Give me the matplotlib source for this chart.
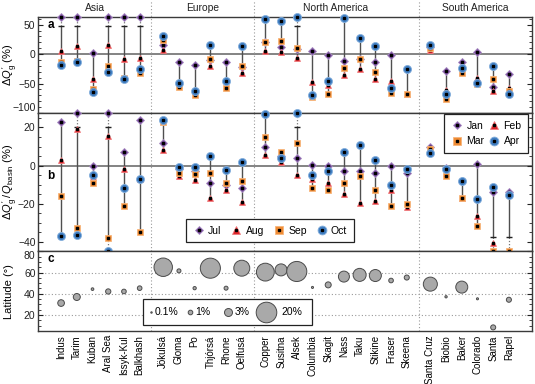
import matplotlib
matplotlib.use('Agg')
import matplotlib.pyplot as plt
import matplotlib.transforms as mtransforms
from matplotlib.lines import Line2D
from matplotlib.patches import Rectangle
from matplotlib.ticker import MultipleLocator
import numpy as np

plt.rcParams['font.family'] = ['Liberation Sans', 'DejaVu Sans']
plt.rcParams['mathtext.fontset'] = 'custom'
plt.rcParams['mathtext.rm'] = 'Liberation Sans'
plt.rcParams['mathtext.it'] = 'Liberation Sans:italic'
plt.rcParams['font.size'] = 7

rivers = ['Indus', 'Tarim', 'Kuban', 'Aral Sea', 'Issyk-Kul', 'Balkhash',
          'Jökulsá', 'Gloma', 'Po', 'Thjórsá', 'Rhone', 'Oelfusá',
          'Copper', 'Susitna', 'Alsek', 'Columbia', 'Skagit', 'Nass', 'Taku',
          'Stikine', 'Fraser', 'Skeena',
          'Santa Cruz', 'Biobio', 'Baker', 'Colorado', 'Santa', 'Rapel']
regions = ['Asia', 'Europe', 'North America', 'South America']
region_sizes = [6, 6, 10, 6]

# panel a: change in glacier runoff, Jan-Apr (%). values past the axis get drawn at the edge
jan = [80, 80, 2, 80, 80, 80, 15, -14, -18, -10, -13, -22,
       20, 12, 9, 5, -1, -12, -8, -13, -1, -25, 12, -28, -14, 3, -56, -34]
feb = [5, 14, -43, 15, -8, -7, 7, -53, -68, -20, -55, -32,
       5, 4, -7, -48, -52, -36, -25, -42, -46, -67, 7, -61, -31, -41, -62, -58]
mar = [-13, -11, -60, -21, -41, -32, 24, -55, -70, -8, -57, -21,
       21, 23, 11, -73, -68, -23, -9, -30, -66, -68, 11, -76, -32, -50, -42, -62]
apr = [-18, -14, -64, -30, -42, -26, 30, -49, -62, 16, -46, 13,
       60, 57, 80, -69, -45, 61, 28, 14, -57, -25, 16, -68, -24, -49, -21, -67]

# panel b: change relative to basin runoff, Jul-Oct (%)
jul = [23, 40, 0, 40, 7, 24, 12, -2, -3, -9, -10, -12,
       10, 5, 4, 0.5, 0, -3, -3, -4, 0, -4, 9.5, -1.5, -8, 1, -14, -14]
aug = [3, 19, -6, 15.5, -2, -7, 8, -5.5, -7.8, -17, -13, -19,
       5.5, 2, -5, -7, -9, -15, -19.5, -18.5, -12.7, -22, 7, -4, -17, -26.4, -40.5, -15]
sep = [-16, -33, -9, -38, -21, -35, 23, -4, -4.4, -4, -9, -8,
       15, 7, 12, -12, -13, -9, -5.6, -12.7, -21, -20, 8.5, -5.6, -17, -31.7, -60, -60]
oct_ = [-37, -36.5, -5, -60, -12, -7, 24, -0.8, -0.8, 5, -2.5, 2,
        27, 4, 40, -5, -3, 7, 10.7, 3, -10.4, -2, 6.5, -1.8, -8, -17.6, -11, -15.5]

# panel c: latitude (deg) and glacier cover (%)
latitude = [31.3, 37, 44.4, 42.2, 42.2, 45.3, 65, 61.6, 45.3, 64.1, 45.3, 64.1,
            60.4, 62.5, 61, 46, 48.4, 56.2, 57.8, 57.2, 52.5, 55.3,
            49.1, 37.2, 46.3, 35.3, 8.4, 34.4]
glacier_pct = [2.1, 2.3, 0.33, 1.3, 1.0, 1.0, 16, 0.75, 0.5, 19, 0.75, 12,
               15, 6.8, 19, 0.2, 1.7, 5.7, 8, 6.8, 1.0, 1.2,
               9.3, 0.25, 6.8, 0.2, 1.2, 1.2]
legend_pct = [0.1, 1, 3, 20]

colors = ['#7b4d9f', '#e1262b', '#f08c35', '#3f7dc1']
edges = ['#a88cc2', '#ee7b7e', '#f6b57c', '#86b0dc']
markers = ['D', '^', 's', 'o']
msizes = [3.7, 5.0, 5.0, 5.8]
line_grey = '#4f4f4f'
bubble_scale = 11

# x positions, with a gap between regions
x = []
pos = 0.0
for n in region_sizes:
    x += [pos + i for i in range(n)]
    pos += n + 0.5
x = np.array(x)
ends = np.cumsum(region_sizes)
dividers = [(x[e - 1] + x[e]) / 2 for e in ends[:-1]]
xlim = (x[0] - 1.45, x[-1] + 1.45)

fig = plt.figure(figsize=(5.35, 3.84), dpi=100)
ax_a = fig.add_axes([0.0716, 0.7057, 0.9222, 0.2500])
ax_b = fig.add_axes([0.0716, 0.3456, 0.9222, 0.3601])
ax_c = fig.add_axes([0.0716, 0.1380, 0.9222, 0.2076])


def draw_months(ax, series, lo, hi, cap_lo, cap_hi):
    vals = np.array(series, dtype=float)
    for j, xi in enumerate(x):
        v = vals[:, j]
        inside = v[(v >= lo) & (v <= hi)]
        over, under = (v > hi).any(), (v < lo).any()
        top = cap_hi if over else inside.max()
        bot = cap_lo if under else inside.min()
        ax.plot([xi, xi], [bot, top], color=line_grey, lw=1, zorder=2)
        if over:
            ax.plot([xi, xi], [cap_hi, hi], color='#777777', lw=0.9,
                    ls=(0, (1, 1.5)), zorder=2, clip_on=False)
            ax.plot(xi, cap_hi, marker='_', ms=5, mew=1, color='#222222', zorder=2)
        if under:
            ax.plot([xi, xi], [lo, cap_lo], color='#777777', lw=0.9,
                    ls=(0, (1, 1.5)), zorder=2, clip_on=False)
            ax.plot(xi, cap_lo, marker='_', ms=5, mew=1, color='#222222', zorder=2)
    for k in range(4):
        y = np.clip(vals[k], lo, hi)
        ax.plot(x, y, ls='none', marker=markers[k], ms=msizes[k], mfc=colors[k],
                mec=edges[k], mew=0.6, zorder=3 + 2 * k, clip_on=False)
        ax.plot(x, y, ls='none', marker='s', ms=1.7, color='k',
                zorder=4 + 2 * k, clip_on=False)


draw_months(ax_a, [jan, feb, mar, apr], -100, 63, -100, 47)
draw_months(ax_b, [jul, aug, sep, oct_], -45, 27.6, -37.5, 20.5)

for ax in (ax_a, ax_b):
    ax.axhline(0, color='#7a7a7a', lw=1.3, zorder=1)

ax_c.scatter(x, latitude, s=bubble_scale * np.array(glacier_pct), color='#a9a9a9',
             edgecolor='#4a4a4a', lw=0.7, zorder=3)
for v in (20, 40, 60):
    ax_c.axhline(v, color='#9a9a9a', lw=0.8, ls=(0, (1, 2)), zorder=1)

ax_a.set_ylim(-100, 63)
ax_b.set_ylim(-45, 27.6)
ax_c.set_ylim(5, 80)
ax_a.set_yticks([-100, -50, 0, 50])
ax_b.set_yticks([-40, -20, 0, 20])
ax_c.set_yticks([20, 40, 60, 80])
ax_a.yaxis.set_minor_locator(MultipleLocator(10))
ax_b.yaxis.set_minor_locator(MultipleLocator(5))
ax_c.yaxis.set_minor_locator(MultipleLocator(5))

for ax in (ax_a, ax_b, ax_c):
    ax.set_xlim(*xlim)
    ax.tick_params(axis='y', which='both', direction='in', right=True,
                   labelsize=7.5, pad=2, colors='#222222')
    ax.tick_params(axis='y', which='major', length=3.5, width=0.8)
    ax.tick_params(axis='y', which='minor', length=2, width=0.6)
    ax.tick_params(axis='x', length=0)
    for s in ax.spines.values():
        s.set_color('#3a3a3a')
        s.set_linewidth(1.0)
    for d in dividers:
        ax.axvline(d, color='#9a9a9a', lw=0.8, ls=(0, (1, 2)), zorder=1,
                   ymax=1.18 if ax is ax_a else 1, clip_on=(ax is not ax_a))

ax_a.set_xticks([])
ax_b.set_xticks([])
ax_c.set_xticks(x)
ax_c.set_xticklabels(rivers, rotation=90, fontsize=7)
ax_c.tick_params(axis='x', pad=3)

ax_a.get_yticklabels()[0].set_verticalalignment('bottom')
ax_c.get_yticklabels()[-1].set_verticalalignment('top')

ax_a.set_ylabel(r'$\Delta Q_{\mathrm{g}}^{\,\prime}$ (%)', fontsize=8)
ax_b.set_ylabel(r'$\Delta Q_{\mathrm{g}}^{\,\prime}\,/\,Q_{\mathrm{basin}}$ (%)', fontsize=8)
ax_c.set_ylabel('Latitude (°)', fontsize=8)
ax_a.yaxis.set_label_coords(-0.038, 0.5)
ax_b.yaxis.set_label_coords(-0.038, 0.5)
ax_c.yaxis.set_label_coords(-0.05, 0.5)

# region names above panel a
bounds = [xlim[0]] + dividers + [xlim[1]]
trans = mtransforms.blended_transform_factory(ax_a.transData, ax_a.transAxes)
for i, name in enumerate(regions):
    ax_a.text((bounds[i] + bounds[i + 1]) / 2, 1.094, name, transform=trans,
              ha='center', va='center', fontsize=7.4, color='#222222')

for ax, lab, yy in ((ax_a, 'a', 0.92), (ax_b, 'b', 0.545), (ax_c, 'c', 0.9)):
    ax.text(0.026, yy, lab, transform=ax.transAxes, fontsize=8.5,
            fontweight='bold', ha='center', va='center')


def month_handle(k):
    m = Line2D([], [], ls='none', marker=markers[k], ms=msizes[k] * 1.1,
               mfc=colors[k], mec=edges[k], mew=0.6)
    d = Line2D([], [], ls='none', marker='s', ms=1.7, color='k')
    return (m, d)


legend_style = dict(frameon=True, fancybox=False, edgecolor='#222222',
                    framealpha=1, borderaxespad=0, fontsize=7.5, borderpad=0.65,
                    handletextpad=0.3, handlelength=1.2, mode='expand')

leg1 = ax_b.legend([month_handle(k) for k in range(4)], ['Jul', 'Aug', 'Sep', 'Oct'],
                   ncol=4, loc='lower left',
                   bbox_to_anchor=(0.2987, 0.065, 0.341, 0.168), **legend_style)
leg1.get_frame().set_linewidth(0.9)
ax_b.add_artist(leg1)
leg2 = ax_b.legend([month_handle(k) for k in (0, 2, 1, 3)], ['Jan', 'Mar', 'Feb', 'Apr'],
                   ncol=2, loc='lower left', labelspacing=0.55,
                   bbox_to_anchor=(0.8223, 0.709, 0.1709, 0.28), **legend_style)
leg2.get_frame().set_linewidth(0.9)

# size key for panel c, drawn as a box in axes coordinates
ax_c.add_patch(Rectangle((0.2116, 0.071), 0.3425, 0.329, transform=ax_c.transAxes,
                         facecolor='white', edgecolor='#222222', lw=0.9, zorder=5))
key_x = [0.2278, 0.3075, 0.3839, 0.4615]
text_x = [0.2365, 0.3176, 0.3987, 0.4919]
for v, kx, tx in zip(legend_pct, key_x, text_x):
    ax_c.scatter([kx], [0.2375], s=bubble_scale * v, color='#a9a9a9', edgecolor='#4a4a4a',
                 lw=0.7, transform=ax_c.transAxes, zorder=6, clip_on=False)
    ax_c.text(tx, 0.2375, '%g%%' % v, transform=ax_c.transAxes, fontsize=7.5,
              ha='left', va='center', zorder=6)

fig.savefig('out.png', dpi=100)
